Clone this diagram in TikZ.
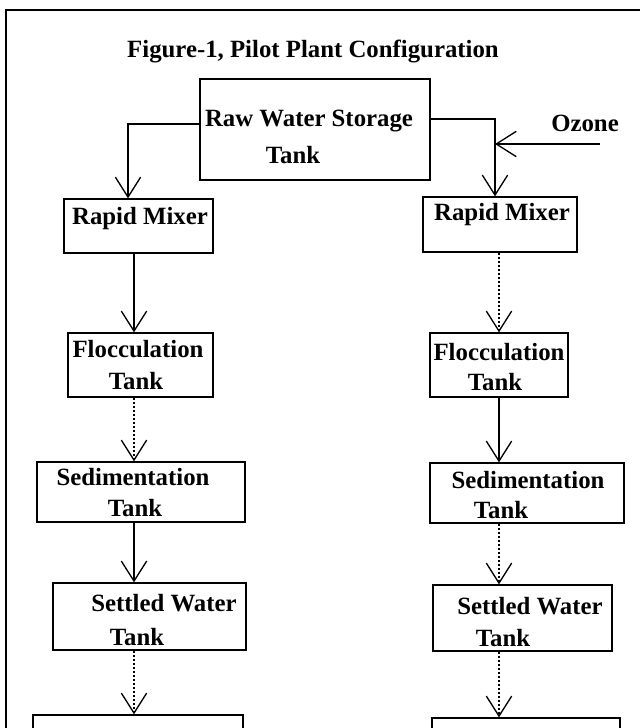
\documentclass[tikz,border=0pt]{standalone}
\usepackage{fontspec}
\setmainfont{Liberation Serif}
\usetikzlibrary{arrows.meta,fit}
\begin{document}
\begin{tikzpicture}[x=0.75pt,y=-0.75pt,
  box/.style={draw, line width=1pt, inner sep=0pt},
  lbl/.style={font=\fontsize{18.6}{21}\selectfont\bfseries, inner sep=0pt},
  arr/.style={line width=1pt, -{Straight Barb[length=15pt,width=19pt,line width=1pt]}},
  dotarr/.style={arr, dash pattern=on 2pt off 1pt}]
\useasboundingbox (0,0) rectangle (639,728);
% frame
\coordinate (fbl) at (6,740);
\coordinate (ftl) at (6,10);
\coordinate (ftr) at (650,10);
\draw[line width=1.6pt] (fbl) -- (ftl) -- (ftr);
% title
\node[lbl] (title) at (313,52) {Figure-1, Pilot Plant Configuration};
% raw water
\node[box, fit={(200,79) (430,180)}] (raw) {};
\node[lbl] (rawt1) at (309,121) {Raw Water Storage};
\node[lbl] (rawt2) at (293,155) {Tank};
% helper coordinates
\coordinate (aL0) at (128,0);
\coordinate (aL) at (134,0);
\coordinate (aR0) at (495,0);
\coordinate (aR) at (499,0);
\coordinate (yl) at (0,124);
\coordinate (yr) at (0,119);
% left column
\node[box, fit={(64,199) (213,253)}] (rmL) {};
\node[lbl] (rmLt) at (140,219) {Rapid Mixer};
\node[box, fit={(68,333) (213,397)}] (flL) {};
\node[lbl] (flLt1) at (138,349) {Flocculation};
\node[lbl] (flLt2) at (136,381) {Tank};
\node[box, fit={(37,462) (245,522)}] (sdL) {};
\node[lbl] (sdLt1) at (133,477) {Sedimentation};
\node[lbl] (sdLt2) at (135,508) {Tank};
\node[box, fit={(53,583) (246,650)}] (stL) {};
\node[lbl] (stLt1) at (164,603) {Settled Water};
\node[lbl] (stLt2) at (137,637) {Tank};
\node[box, fit={(33,715) (243,780)}] (btL) {};
% right column
\node[box, fit={(423,197) (577,252)}] (rmR) {};
\node[lbl] (rmRt) at (502,215) {Rapid Mixer};
\node[box, fit={(430,333) (568,397)}] (flR) {};
\node[lbl] (flRt1) at (499,352) {Flocculation};
\node[lbl] (flRt2) at (495,382) {Tank};
\node[box, fit={(430,463) (624,523)}] (sdR) {};
\node[lbl] (sdRt1) at (528,480) {Sedimentation};
\node[lbl] (sdRt2) at (501,510) {Tank};
\node[box, fit={(433,585) (612,651)}] (stR) {};
\node[lbl] (stRt1) at (530,606) {Settled Water};
\node[lbl] (stRt2) at (503,638) {Tank};
\node[box, fit={(432,718) (620,780)}] (btR) {};
% ozone
\coordinate (oz) at (600,144);
\node[lbl] (ozt) at (585,123) {Ozone};
% connectors
\draw[arr] (raw.west |- yl) -| (rmL.north -| aL0);
\draw[arr] (raw.east |- yr) -| (rmR.north -| aR0);
\draw[arr] (oz) -- (oz -| aR0);
\draw[arr] (rmL.south -| aL) -- (flL.north -| aL);
\draw[dotarr] (flL.south -| aL) -- (sdL.north -| aL);
\draw[arr] (sdL.south -| aL) -- (stL.north -| aL);
\draw[dotarr] (stL.south -| aL) -- (btL.north -| aL);
\draw[dotarr] (rmR.south -| aR) -- (flR.north -| aR);
\draw[arr] (flR.south -| aR) -- (sdR.north -| aR);
\draw[dotarr] (sdR.south -| aR) -- (stR.north -| aR);
\draw[dotarr] (stR.south -| aR) -- (btR.north -| aR);
\end{tikzpicture}
\end{document}
